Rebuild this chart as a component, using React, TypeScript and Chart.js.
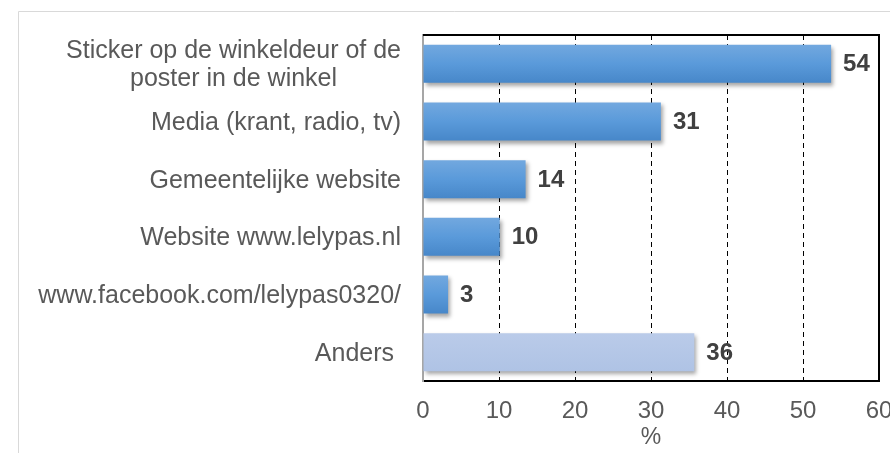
import React, { useEffect, useRef } from "react";
import { Chart, registerables } from "chart.js";

Chart.register(...registerables);

const categories: (string | string[])[] = [
  ["Sticker op de winkeldeur of de", "poster in de winkel"],
  "Media (krant, radio, tv)",
  "Gemeentelijke website",
  "Website www.lelypas.nl",
  "www.facebook.com/lelypas0320/",
  "Anders ",
];
const values = [53.7, 31.3, 13.5, 10.1, 3.3, 35.7];
const valueLabels = ["54", "31", "14", "10", "3", "36"];
const xMin = 0;
const xMax = 60;
const xStep = 10;
const axisTitle = "%";

const FONT = "Arial, 'Liberation Sans', sans-serif";
const BAR_FRACTION = 0.66;
const OTHER_INDEX = categories.length - 1;

function barFill(c: any) {
  const chart = c.chart;
  const other = c.dataIndex === OTHER_INDEX;
  const base = other ? "#B4C7E7" : "#5B9BD5";
  const yS = chart.scales && chart.scales.y;
  if (!chart.chartArea || !yS) return base;
  const cy = yS.getPixelForValue(c.dataIndex);
  const half = ((yS.height / categories.length) * BAR_FRACTION) / 2;
  const g = chart.ctx.createLinearGradient(0, cy - half, 0, cy + half);
  if (other) {
    g.addColorStop(0, "#BACBE9");
    g.addColorStop(1, "#AFC3E5");
  } else {
    g.addColorStop(0, "#72A8DF");
    g.addColorStop(0.5, "#5A9ADA");
    g.addColorStop(1, "#4787C9");
  }
  return g;
}

const decorPlugin = {
  id: "decor",
  beforeDraw(chart: any) {
    const ctx = chart.ctx;
    ctx.save();
    ctx.strokeStyle = "#D9D9D9";
    ctx.lineWidth = 1;
    ctx.beginPath();
    ctx.moveTo(18.5, chart.height);
    ctx.lineTo(18.5, 11.5);
    ctx.lineTo(chart.width, 11.5);
    ctx.stroke();
    ctx.restore();
  },
  beforeDatasetsDraw(chart: any) {
    const ctx = chart.ctx;
    ctx.save();
    ctx.shadowColor = "rgba(0,0,0,0.35)";
    ctx.shadowBlur = 4;
    ctx.shadowOffsetX = 2;
    ctx.shadowOffsetY = 3;
  },
  afterDatasetsDraw(chart: any) {
    const ctx = chart.ctx;
    ctx.restore();
    const meta = chart.getDatasetMeta(0);
    ctx.save();
    ctx.font = "bold 24px " + FONT;
    ctx.fillStyle = "#404040";
    ctx.textAlign = "left";
    ctx.textBaseline = "middle";
    meta.data.forEach((el: any, i: number) => {
      ctx.fillText(valueLabels[i], el.x + 12, el.y + 1);
    });
    ctx.restore();
  },
  afterDraw(chart: any) {
    const ctx = chart.ctx;
    const ca = chart.chartArea;
    ctx.save();
    ctx.strokeStyle = "#000000";
    ctx.lineWidth = 2;
    ctx.beginPath();
    ctx.moveTo(ca.left, ca.top);
    ctx.lineTo(ca.right, ca.top);
    ctx.lineTo(ca.right, ca.bottom + 1);
    ctx.stroke();
    const yS = chart.scales.y;
    ctx.font = "25px " + FONT;
    ctx.fillStyle = "#595959";
    ctx.textBaseline = "middle";
    ctx.textAlign = "center";
    const rightEdge = 401;
    const lh = 28;
    chart.data.labels.forEach((lab: any, i: number) => {
      const lines: string[] = Array.isArray(lab) ? lab : [lab];
      const cy = yS.getPixelForValue(i) + 1.5;
      const maxW = Math.max(...lines.map((l) => ctx.measureText(l).width));
      const cx = rightEdge - maxW / 2;
      lines.forEach((l, j) => {
        ctx.fillText(l, cx, cy + (j - (lines.length - 1) / 2) * lh);
      });
    });
    ctx.restore();
  },
};

export default function App() {
  const ref = useRef<HTMLCanvasElement | null>(null);
  useEffect(() => {
    if (!ref.current) return;
    const chart = new Chart(ref.current, {
      type: "bar",
      data: {
        labels: categories,
        datasets: [
          {
            data: values,
            backgroundColor: barFill,
            borderWidth: 0,
            barPercentage: BAR_FRACTION,
            categoryPercentage: 1,
          },
        ],
      },
      options: {
        indexAxis: "y",
        responsive: false,
        animation: false,
        devicePixelRatio: 1,
        layout: { padding: { left: 0, top: 35, right: 11, bottom: 0 } },
        plugins: {
          legend: { display: false },
          tooltip: { enabled: false },
          title: { display: false },
        },
        scales: {
          x: {
            type: "linear",
            min: xMin,
            max: xMax,
            ticks: {
              stepSize: xStep,
              color: "#595959",
              font: { family: FONT, size: 24 },
              padding: 16,
              maxRotation: 0,
            },
            grid: {
              drawTicks: false,
              lineWidth: 1,
              color: (c: any) =>
                c.tick && (c.tick.value === xMin || c.tick.value === xMax)
                  ? "rgba(0,0,0,0)"
                  : "#000000",
            },
            border: { display: true, color: "#000000", width: 2, dash: [5, 4] },
            title: {
              display: true,
              text: axisTitle,
              color: "#595959",
              font: { family: FONT, size: 23 },
              padding: { top: 0, bottom: 2 },
            },
            afterFit: (s: any) => {
              s.height = 72;
              s.paddingLeft = 0;
              s.paddingRight = 0;
            },
          },
          y: {
            type: "category",
            ticks: { display: false },
            grid: { display: false, drawTicks: false },
            border: { display: true, color: "#A6A6A6", width: 2 },
            afterFit: (s: any) => {
              s.width = 423;
              s.paddingTop = 0;
              s.paddingBottom = 0;
            },
          },
        },
      },
      plugins: [decorPlugin],
    });
    return () => chart.destroy();
  }, []);
  return (
    <div style={{ position: "absolute", left: 0, top: 0, width: 890, height: 453, background: "#fff" }}>
      <canvas ref={ref} width={890} height={453} style={{ display: "block" }} />
    </div>
  );
}
